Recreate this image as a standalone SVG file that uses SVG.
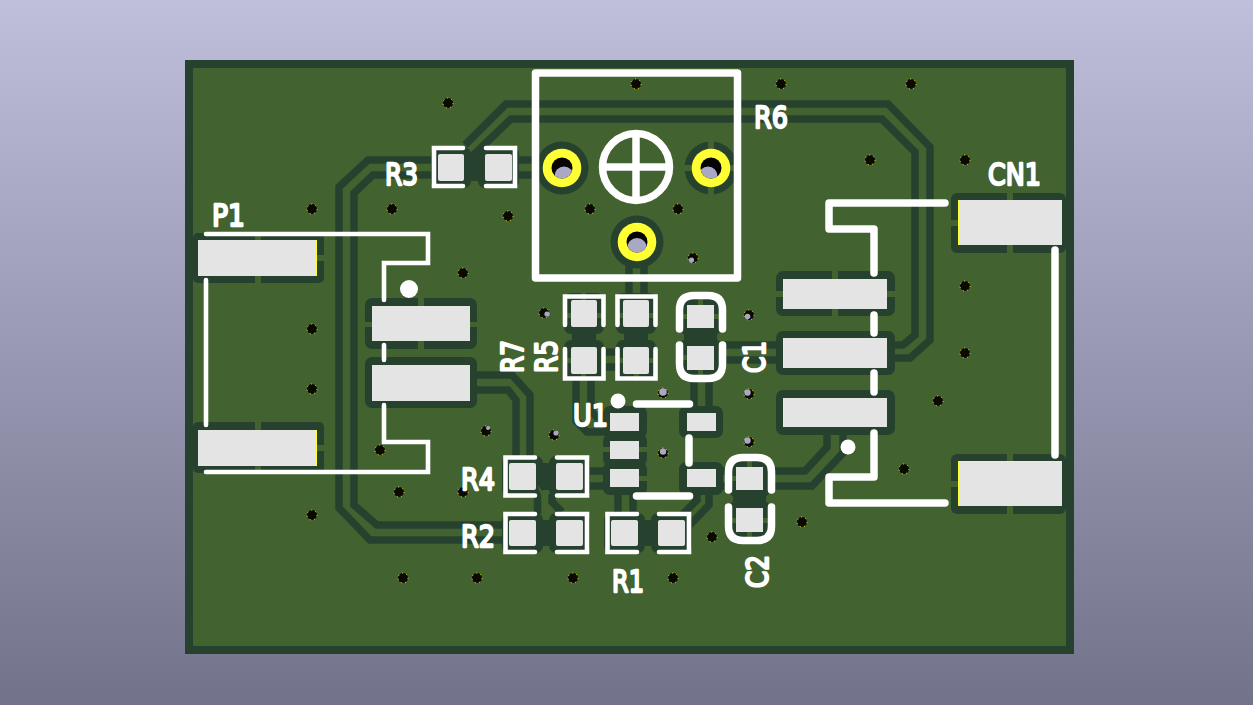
<svg xmlns="http://www.w3.org/2000/svg" width="1253" height="705" viewBox="0 0 1253 705">
<style>
.trk{fill:none;stroke:#27412f;stroke-width:7.5;stroke-linejoin:miter}
.clr{fill:#27412f}
.gap{fill:#426230}
.pad{fill:#e4e4e4}
.tin{fill:none;stroke:#ffff33;stroke-width:1}
.silk{fill:none;stroke:#fff;stroke-width:7.5;stroke-linecap:round;stroke-linejoin:round}
.thin{fill:none;stroke:#fff;stroke-width:4.6;stroke-linecap:round;stroke-linejoin:miter}
.dot{fill:#fff}
.via{fill:#0c0902;stroke:#ffff33;stroke-width:.8;stroke-dasharray:1.2 3.2}
.seen{fill:#a9a9c6}
.ring{fill:#ffff33}
.hole{fill:#050403}
.lbl{font-family:"DejaVu Sans",sans-serif;font-size:31px;fill:#fff;stroke:#fff;stroke-width:2.300;stroke-linejoin:round}
</style>
<defs>
<linearGradient id="bg" x1="0" y1="0" x2="0" y2="1"><stop offset="0" stop-color="#bfbfdc"/><stop offset="1" stop-color="#72728a"/></linearGradient>
<clipPath id="hL"><circle cx="562" cy="168" r="10.5"/></clipPath>
<clipPath id="hR"><circle cx="711" cy="168" r="10.5"/></clipPath>
<clipPath id="hB"><circle cx="637" cy="242" r="10.5"/></clipPath>
</defs>
<rect width="1253" height="705" fill="url(#bg)"/>
<g id="board">
<rect x="185" y="60" width="889" height="594" fill="#27412f"/>
<rect x="193" y="68" width="873" height="578" rx="1" fill="#426230"/>
</g>
<g id="connectors">
<path class="trk" d="M438 160H368L339 187V508L370 540H510"/>
<path class="trk" d="M438 175H373L354 193V505L377 525H510"/>
<path class="trk" d="M465 145L506 104H888L930 147V340L910 358H885"/>
<path class="trk" d="M468 160L511 119H882L915 152V335L903 345H885"/>
<path class="trk" d="M510 160H545M510 175H545"/>
<path class="trk" d="M629 262V298M644 262V298"/>
<path class="trk" d="M470 375H512L530 395V462M470 390H508L516 400V462"/>
<path class="trk" d="M576 378V421L587 432H606M591 378V412L597 417H606"/>
<path class="trk" d="M694 375V412M709 375V412"/>
<path class="trk" d="M716 345H780M716 360H780"/>
<path class="trk" d="M604 352H617M604 367H617"/>
<path class="trk" d="M586 471H612M586 486H612"/>
<path class="trk" d="M618 490V516M633 490V516"/>
<path class="trk" d="M697 490V500L678 519M709 490V505L688 527"/>
<path class="trk" d="M716 471H736M716 486H736M763 471H805L827 447V432M763 486H812L843 453V432"/>
<path class="trk" d="M537.500 490V514M552 494V502L562 512"/>
</g>
<g id="clearance">
<rect class="clr" x="193" y="233" width="131" height="50" rx="5"/>
<rect class="clr" x="193" y="422" width="131" height="51" rx="5"/>
<rect class="clr" x="365" y="298" width="112" height="51" rx="7"/>
<rect class="clr" x="365" y="357" width="112" height="51" rx="7"/>
<rect class="clr" x="776" y="271" width="119" height="45" rx="7"/>
<rect class="clr" x="776" y="331" width="119" height="44" rx="7"/>
<rect class="clr" x="776" y="390" width="119" height="45" rx="7"/>
<rect class="clr" x="951" y="193" width="115" height="60" rx="6"/>
<rect class="clr" x="951" y="454" width="115" height="60" rx="6"/>
<circle class="clr" cx="562" cy="168" r="26.500"/>
<circle class="clr" cx="711" cy="168" r="26.500"/>
<circle class="clr" cx="637" cy="242" r="26.500"/>
<rect class="clr" x="431" y="147" width="40" height="41" rx="7"/>
<rect class="clr" x="478" y="147" width="41" height="41" rx="7"/>
<rect class="clr" x="460" y="154" width="30" height="27"/>
<rect class="clr" x="564" y="293" width="40" height="41" rx="7"/>
<rect class="clr" x="564" y="340" width="40" height="41" rx="7"/>
<rect class="clr" x="572" y="328" width="24" height="18"/>
<rect class="clr" x="616" y="293" width="40" height="41" rx="7"/>
<rect class="clr" x="616" y="340" width="40" height="41" rx="7"/>
<rect class="clr" x="624" y="328" width="24" height="18"/>
<rect class="clr" x="680" y="298" width="41" height="37" rx="7"/>
<rect class="clr" x="680" y="339" width="41" height="38" rx="7"/>
<rect class="clr" x="684" y="330" width="33" height="14"/>
<rect class="clr" x="729" y="460" width="41" height="37" rx="7"/>
<rect class="clr" x="729" y="501" width="41" height="38" rx="7"/>
<rect class="clr" x="733" y="492" width="33" height="14"/>
<rect class="clr" x="502" y="456" width="41" height="41" rx="7"/>
<rect class="clr" x="549" y="456" width="41" height="41" rx="7"/>
<rect class="clr" x="536" y="463" width="20" height="27"/>
<rect class="clr" x="502" y="513" width="41" height="40" rx="7"/>
<rect class="clr" x="549" y="513" width="41" height="40" rx="7"/>
<rect class="clr" x="536" y="520" width="20" height="26"/>
<rect class="clr" x="604" y="513" width="41" height="40" rx="7"/>
<rect class="clr" x="651" y="513" width="41" height="40" rx="7"/>
<rect class="clr" x="638" y="520" width="20" height="26"/>
<rect class="clr" x="603" y="406" width="44" height="32" rx="7"/>
<rect class="clr" x="603" y="434" width="44" height="32" rx="7"/>
<rect class="clr" x="603" y="462" width="44" height="33" rx="7"/>
<rect class="clr" x="679" y="406" width="44" height="32" rx="7"/>
<rect class="clr" x="679" y="462" width="44" height="33" rx="7"/>
<path class="gap" d="M255 233h6v7h-6zM255 276h6v7h-6zM317 255h7v6h-7zM255 422h6v8h-6zM255 466h6v7h-6zM317 445h7v6h-7z"/>
<path class="gap" d="M418 298h6v8h-6zM418 341h6v8h-6zM365 322h7v5h-7zM470 322h7v5h-7z"/>
<path class="gap" d="M832 271h6v8h-6zM832 309h6v7h-6zM776 291h7v6h-7zM887 291h8v6h-8zM1007 193h6v7h-6zM1007 245h6v8h-6zM951 220h7v6h-7zM1007 454h6v7h-6zM1007 506h6v8h-6zM951 481h7v6h-7z"/>
<path class="gap" d="M708 141h6v9h-6zM708 186h6v9h-6zM684 165h9v6h-9zM729 165h9v6h-9z"/>
<path class="gap" d="M581 293h5v7h-5zM564 313h7v5h-7zM597 313h7v5h-7zM564 358h7v5h-7zM581 374h5v7h-5zM616 313h7v5h-7zM649 313h7v5h-7zM649 358h7v5h-7zM616 358h7v5h-7zM634 374h5v7h-5z"/>
<path class="gap" d="M698 298h5v7h-5zM680 314h7v5h-7zM714 314h7v5h-7zM680 355h7v5h-7zM698 370h5v7h-5zM747 460h5v7h-5zM729 476h7v5h-7zM729 518h7v5h-7zM763 518h7v5h-7zM747 532h5v7h-5z"/>
<path class="gap" d="M639 447h8v5h-8zM603 447h7v5h-7zM639 476h8v5h-8zM537 485L548 497H542Z"/>
</g>
<g id="vias">
<circle class="via" cx="448" cy="103" r="5"/><circle class="via" cx="312" cy="209" r="5"/><circle class="via" cx="392" cy="209" r="5"/><circle class="via" cx="508" cy="216" r="5"/><circle class="via" cx="463" cy="273" r="5"/><circle class="via" cx="312" cy="329" r="5"/><circle class="via" cx="544" cy="313" r="5"/><circle class="via" cx="312" cy="389" r="5"/><circle class="via" cx="380" cy="450" r="5"/><circle class="via" cx="486" cy="431" r="5"/><circle class="via" cx="554" cy="435" r="5"/><circle class="via" cx="399" cy="492" r="5"/><circle class="via" cx="463" cy="492" r="5"/><circle class="via" cx="312" cy="515" r="5"/><circle class="via" cx="403" cy="578" r="5"/><circle class="via" cx="477" cy="578" r="5"/><circle class="via" cx="573" cy="578" r="5"/><circle class="via" cx="673" cy="578" r="5"/><circle class="via" cx="712" cy="537" r="5"/><circle class="via" cx="663" cy="393" r="5"/><circle class="via" cx="663" cy="453" r="5"/><circle class="via" cx="749" cy="315" r="5"/><circle class="via" cx="749" cy="394" r="5"/><circle class="via" cx="749" cy="442" r="5"/><circle class="via" cx="802" cy="522" r="5"/><circle class="via" cx="636" cy="84" r="5"/><circle class="via" cx="781" cy="84" r="5"/><circle class="via" cx="911" cy="84" r="5"/><circle class="via" cx="590" cy="209" r="5"/><circle class="via" cx="678" cy="209" r="5"/><circle class="via" cx="693" cy="258" r="5"/><circle class="via" cx="870" cy="160" r="5"/><circle class="via" cx="965" cy="160" r="5"/><circle class="via" cx="965" cy="286" r="5"/><circle class="via" cx="965" cy="353" r="5"/><circle class="via" cx="938" cy="401" r="5"/><circle class="via" cx="904" cy="469" r="5"/>
<circle class="seen" cx="547" cy="314" r="2.600"/><circle class="seen" cx="556" cy="433" r="2.600"/><circle class="seen" cx="488" cy="428" r="2"/><circle class="seen" cx="663" cy="392" r="3.800"/><circle class="seen" cx="663" cy="451.500" r="3.200"/><circle class="seen" cx="747.500" cy="316.500" r="2.800"/><circle class="seen" cx="747.500" cy="392.500" r="3.200"/><circle class="seen" cx="747.500" cy="440.500" r="3.200"/><circle class="seen" cx="691.500" cy="260" r="2.600"/>
</g>
<g id="P1">
<rect class="pad" x="198" y="240" width="119" height="36"/><path class="tin" d="M316.500 240V276"/>
<rect class="pad" x="198" y="430" width="119" height="36"/><path class="tin" d="M316.500 430V466"/>
<path class="thin" d="M206 234H428V263H384V300M384 345V360M384 405V442H428V472H206M206 280V425"/>
<circle class="dot" cx="409" cy="289" r="9"/>
<rect class="pad" x="372" y="306" width="98" height="35"/>
<rect class="pad" x="372" y="365" width="98" height="36"/>
<text class="lbl" x="212" y="226" textLength="33" lengthAdjust="spacingAndGlyphs">P1</text>
</g>
<g id="R3">
<rect class="pad" x="438" y="154" width="26" height="27" rx="2"/><rect class="pad" x="485" y="154" width="27" height="27" rx="2"/>
<path class="thin" d="M463 148H434V186H463M486 148H515V186H486"/>
<text class="lbl" x="385" y="185" textLength="33" lengthAdjust="spacingAndGlyphs">R3</text>
</g>
<g id="R6">
<rect class="silk" x="535.500" y="73" width="202" height="205"/>
<circle cx="636" cy="167" r="33.500" class="silk"/>
<path class="silk" stroke-linecap="butt" d="M636 134V200M603 167H669"/>
<circle class="ring" cx="562" cy="168" r="19.300"/><circle class="hole" cx="562" cy="168" r="10.500"/><circle class="seen" cx="564" cy="176" r="9.500" clip-path="url(#hL)"/>
<circle class="ring" cx="711" cy="168" r="19.300"/><circle class="hole" cx="711" cy="168" r="10.500"/><circle class="seen" cx="708" cy="176" r="9.500" clip-path="url(#hR)"/>
<circle class="ring" cx="637" cy="242" r="19.300"/><circle class="hole" cx="637" cy="242" r="10.500"/><circle class="seen" cx="637" cy="248" r="10" clip-path="url(#hB)"/>
<text class="lbl" x="754" y="128" textLength="34" lengthAdjust="spacingAndGlyphs">R6</text>
</g>
<g id="CN1">
<rect class="pad" x="958" y="200" width="104" height="45"/><path class="tin" d="M958.500 200V245"/>
<rect class="pad" x="958" y="461" width="104" height="45"/><path class="tin" d="M958.500 506V461.500H1062"/>
<path class="silk" d="M945 203H829V229H874V273M874 315V333M874 373V392M874 433V477H829V503H945M1055 250V455"/>
<circle class="dot" cx="848" cy="447" r="7.500"/>
<rect class="pad" x="783" y="279" width="104" height="30"/><path class="tin" d="M783.500 279V309"/>
<rect class="pad" x="783" y="338" width="104" height="30"/><path class="tin" d="M783.500 338V368"/>
<rect class="pad" x="783" y="398" width="104" height="29"/><path class="tin" d="M783.500 398V427"/>
<text class="lbl" x="988" y="185" textLength="53" lengthAdjust="spacingAndGlyphs">CN1</text>
</g>
<g id="R7">
<rect class="pad" x="571" y="300" width="26" height="27" rx="2"/><rect class="pad" x="571" y="347" width="26" height="27" rx="2"/>
<path class="thin" d="M565 325V296.500H603.500V325M565 349V378.500H603.500V349"/>
<text class="lbl" transform="translate(523 373) rotate(-90)" textLength="33" lengthAdjust="spacingAndGlyphs">R7</text>
</g>
<g id="R5">
<rect class="pad" x="623" y="300" width="26" height="27" rx="2"/><rect class="pad" x="623" y="347" width="26" height="27" rx="2"/>
<path class="thin" d="M617.500 325V296.500H655.500V325M617.500 349V378.500H655.500V349"/>
<text class="lbl" transform="translate(557 373) rotate(-90)" textLength="33" lengthAdjust="spacingAndGlyphs">R5</text>
</g>
<g id="C1">
<rect class="pad" x="687" y="305" width="27" height="23"/><rect class="pad" x="687" y="346" width="27" height="24"/>
<path class="silk" d="M679.500 329V310Q679.500 295.500 694 295.500H708Q722.500 295.500 722.500 310V329M679.500 345V364Q679.500 378.500 694 378.500H708Q722.500 378.500 722.500 364V345"/>
<text class="lbl" transform="translate(765 373) rotate(-90)" textLength="32" lengthAdjust="spacingAndGlyphs">C1</text>
</g>
<g id="U1">
<rect class="pad" x="610" y="413" width="29" height="18"/><rect class="pad" x="610" y="441" width="29" height="18"/><rect class="pad" x="610" y="469" width="29" height="18"/><path class="tin" d="M610 469.500H639"/>
<rect class="pad" x="687" y="413" width="29" height="18"/><rect class="pad" x="687" y="469" width="29" height="18"/><path class="tin" d="M687 469.500H716"/>
<circle class="dot" cx="618" cy="401" r="7.500"/>
<path class="silk" d="M636.500 404H689.500M636.500 496H689.500M689 438V463"/>
<text class="lbl" x="573" y="426" textLength="35" lengthAdjust="spacingAndGlyphs">U1</text>
</g>
<g id="C2">
<rect class="pad" x="736" y="467" width="27" height="23"/><rect class="pad" x="736" y="508" width="27" height="24"/>
<path class="silk" d="M728.500 490V472Q728.500 457.500 743 457.500H757Q771.500 457.500 771.500 472V490M728.500 507V526Q728.500 540.500 743 540.500H757Q771.500 540.500 771.500 526V507"/>
<text class="lbl" transform="translate(768 588) rotate(-90)" textLength="33" lengthAdjust="spacingAndGlyphs">C2</text>
</g>
<g id="R4">
<rect class="pad" x="509" y="463" width="27" height="27" rx="2"/><rect class="pad" x="556" y="463" width="27" height="27" rx="2"/>
<path class="thin" d="M535 457.500H505.500V495.500H535M557 457.500H587V495.500H557"/>
<text class="lbl" x="461" y="490" textLength="34" lengthAdjust="spacingAndGlyphs">R4</text>
</g>
<g id="R2">
<rect class="pad" x="509" y="520" width="27" height="26" rx="2"/><rect class="pad" x="556" y="520" width="27" height="26" rx="2"/>
<path class="thin" d="M535 514H505.500V552H535M557 514H587V552H557"/>
<text class="lbl" x="461" y="547" textLength="34" lengthAdjust="spacingAndGlyphs">R2</text>
</g>
<g id="R1">
<rect class="pad" x="611" y="520" width="27" height="26" rx="2"/><rect class="pad" x="658" y="520" width="27" height="26" rx="2"/>
<path class="thin" d="M637 514H607.500V552H637M659 514H689V552H659"/>
<text class="lbl" x="612" y="592" textLength="32" lengthAdjust="spacingAndGlyphs">R1</text>
</g>
</svg>
